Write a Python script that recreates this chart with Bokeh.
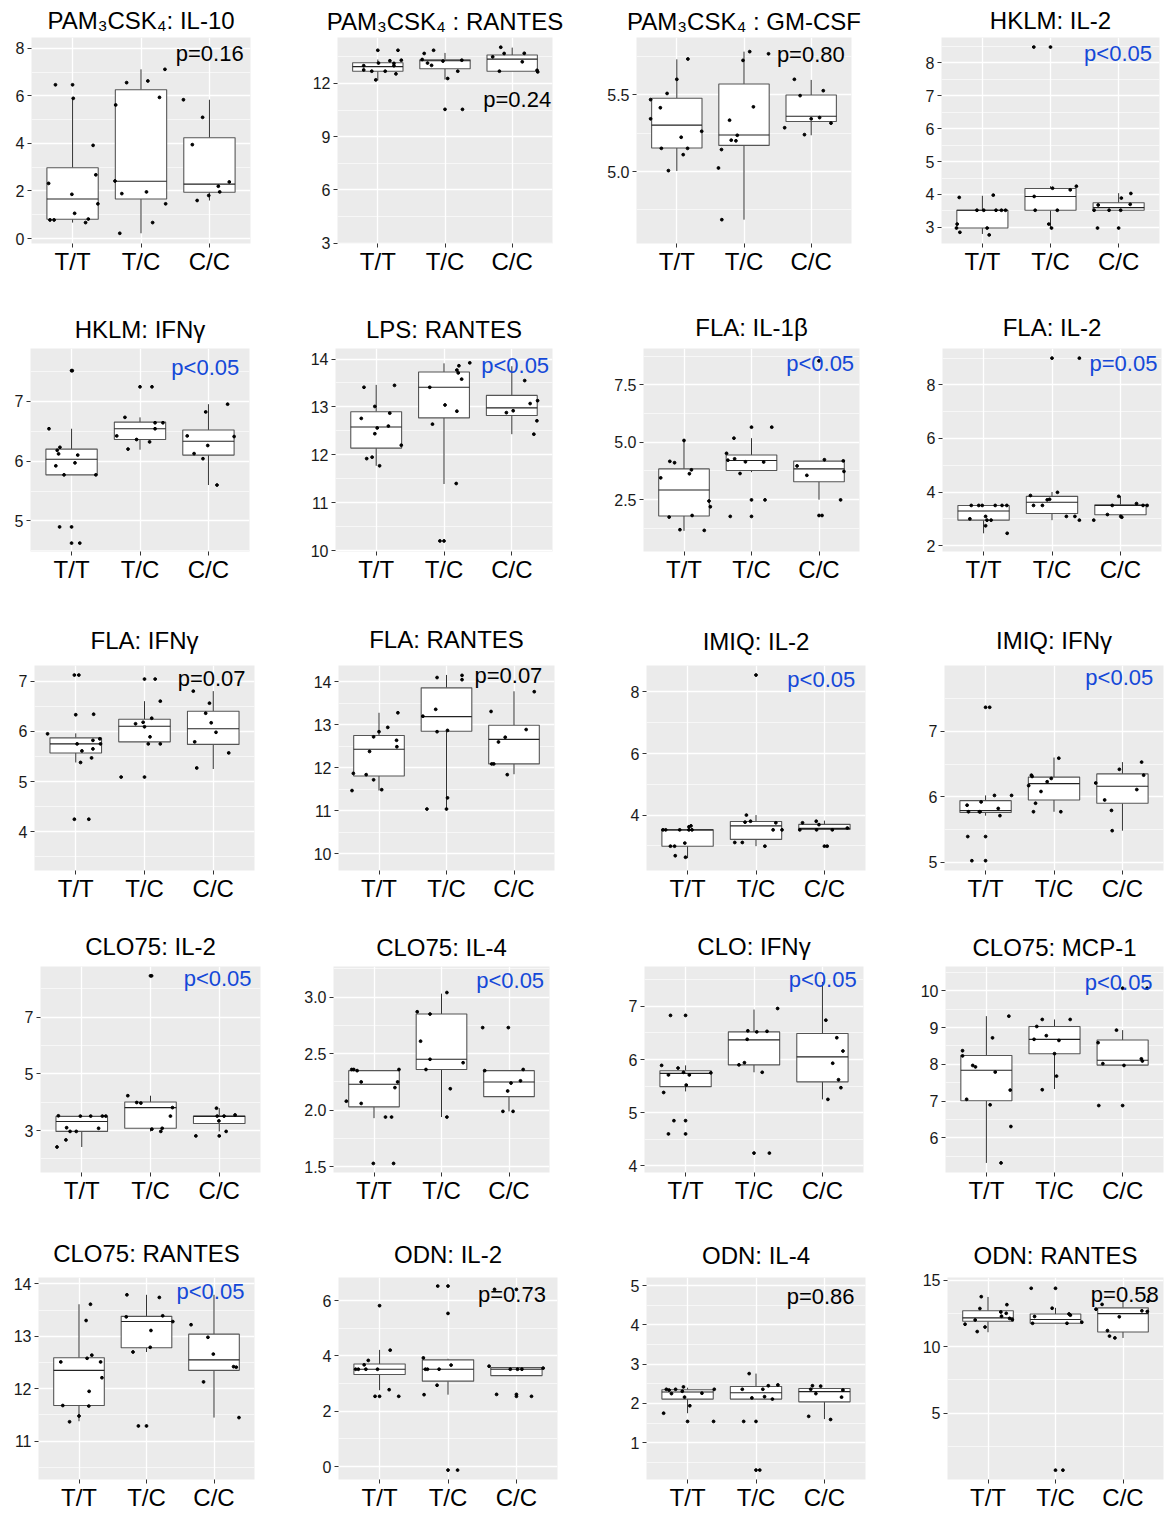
from bokeh.plotting import figure
from bokeh.models import Range1d, FixedTicker
from bokeh.layouts import column, row
from bokeh.embed import file_html
from bokeh.resources import INLINE
from bokeh.core.properties import value

GROUPS = ["T/T", "T/C", "C/C"]
FONT = "Liberation Sans"
BLUE = "#1448D8"

# ---------------- data (stats = low whisker, q1, median, q3, high whisker) -------------
P01_TITLE = "PAM\u2083CSK\u2084: IL-10"
P01_STATS = [(0.67, 0.81, 1.66, 2.98, 5.9), (0.22, 1.66, 2.41, 6.26, 7.12), (1.6, 1.95, 2.29, 4.24, 5.84)]
P01_TT = [(-0.35, 2.32), (-0.25, 6.47), (0.0, 6.47), (0.01, 5.9), (0.3, 3.92), (0.34, 2.68), (0.37, 1.46), (-0.01, 1.86), (0.03, 1.06), (0.23, 0.82), (0.19, 0.67), (-0.33, 0.78), (-0.27, 0.78)]
P01_TC = [(-0.37, 5.62), (-0.21, 6.56), (0.1, 6.63), (0.35, 7.12), (0.27, 5.94), (-0.38, 2.42), (-0.28, 1.89), (0.08, 1.96), (0.36, 1.46), (0.17, 0.67), (-0.31, 0.22)]
P01_CC = [(-0.38, 5.84), (-0.1, 5.1), (-0.25, 3.95), (-0.18, 1.6), (-0.01, 1.81), (0.13, 2.2), (0.15, 1.96), (0.29, 2.38)]
P01_PVAL = "p=0.16"
P01_YTICKS = [0, 2, 4, 6, 8]
P01_YLABELS = ["0", "2", "4", "6", "8"]
P01_YMINOR = [1, 3, 5, 7]

P02_TITLE = "PAM\u2083CSK\u2084 : RANTES"
P02_STATS = [(12.17, 12.69, 12.95, 13.17, 13.35), (12.22, 12.83, 13.28, 13.33, 13.72), (12.69, 12.69, 13.37, 13.6, 14.02)]
P02_TT = [(-0.21, 13.0), (-0.21, 12.76), (-0.09, 12.69), (-0.03, 12.2), (0.01, 13.15), (0.0, 13.87), (0.11, 12.69), (0.18, 13.28), (0.24, 13.0), (0.24, 13.13), (0.27, 12.54), (0.3, 13.87), (0.35, 13.31)]
P02_TC = [(-0.34, 13.35), (-0.31, 13.69), (-0.26, 13.15), (-0.2, 13.02), (-0.17, 13.87), (-0.03, 13.26), (0.0, 10.54), (0.04, 12.28), (0.19, 12.69), (0.25, 13.31), (0.26, 10.54)]
P02_CC = [(-0.29, 13.5), (-0.19, 12.69), (-0.17, 14.04), (-0.12, 13.69), (0.15, 13.22), (0.18, 13.7), (0.37, 12.74), (0.38, 12.65)]
P02_PVAL = "p=0.24"
P02_YTICKS = [3, 6, 9, 12]
P02_YLABELS = ["3", "6", "9", "12"]
P02_YMINOR = [4.5, 7.5, 10.5, 13.5]

P03_TITLE = "PAM\u2083CSK\u2084 : GM-CSF"
P03_STATS = [(5.004, 5.153, 5.302, 5.477, 5.73), (4.687, 5.17, 5.238, 5.57, 5.78), (5.236, 5.326, 5.36, 5.498, 5.596)]
P03_TT = [(-0.39, 5.468), (-0.39, 5.343), (-0.245, 5.415), (-0.145, 5.508), (0.0, 5.6), (0.165, 5.732), (0.37, 5.262), (0.065, 5.223), (0.16, 5.151), (0.095, 5.11), (-0.23, 5.151), (-0.125, 5.006)]
P03_TC = [(0.085, 5.78), (0.365, 5.766), (-0.015, 5.723), (0.14, 5.421), (-0.215, 5.334), (-0.1, 5.236), (-0.19, 5.204), (-0.12, 5.2), (-0.335, 5.143), (-0.38, 5.023), (-0.33, 4.687)]
P03_CC = [(-0.25, 5.6), (-0.165, 5.494), (0.18, 5.526), (-0.395, 5.285), (0.0, 5.343), (0.125, 5.351), (0.295, 5.315), (-0.1, 5.24)]
P03_PVAL = "p=0.80"
P03_YTICKS = [5.0, 5.5]
P03_YLABELS = ["5.0", "5.5"]
P03_YMINOR = [4.75, 5.25, 5.75]

P04_TITLE = "HKLM: IL-2"
P04_STATS = [(2.8, 2.98, 3.52, 3.52, 3.96), (2.98, 3.52, 3.94, 4.18, 4.25), (3.52, 3.52, 3.6, 3.75, 4.04)]
P04_TT = [(-0.34, 3.91), (-0.37, 3.1), (-0.38, 2.98), (-0.33, 2.85), (-0.08, 3.52), (0.02, 3.52), (0.16, 3.98), (0.2, 3.52), (0.28, 3.52), (0.34, 3.52), (0.07, 2.98), (0.1, 2.77)]
P04_TC = [(-0.245, 8.48), (0.0, 8.48), (-0.24, 3.94), (-0.225, 3.52), (-0.025, 3.1), (0.015, 2.98), (0.03, 4.19), (0.1, 3.52), (0.29, 4.14), (0.38, 4.25)]
P04_CC = [(-0.36, 3.52), (-0.3, 3.68), (-0.31, 2.98), (-0.14, 3.52), (0.0, 2.98), (0.03, 3.52), (0.04, 3.89), (0.17, 3.7), (0.18, 4.03)]
P04_PVAL = "p<0.05"
P04_YTICKS = [3, 4, 5, 6, 7, 8]
P04_YLABELS = ["3", "4", "5", "6", "7", "8"]
P04_YMINOR = [3.5, 4.5, 5.5, 6.5, 7.5, 8.5]

P05_TITLE = "HKLM: IFN\u03b3"
P05_STATS = [(5.77, 5.77, 6.03, 6.2, 6.54), (6.19, 6.36, 6.54, 6.65, 6.73), (5.6, 6.1, 6.33, 6.52, 6.95)]
P05_TT = [(-0.33, 6.54), (0.0, 7.51), (0.01, 7.51), (-0.21, 6.18), (-0.19, 6.12), (-0.17, 6.23), (-0.23, 5.92), (-0.11, 5.77), (0.05, 5.97), (0.09, 6.1), (0.355, 5.77), (-0.175, 4.9), (0.0, 4.9), (0.0, 4.63), (0.12, 4.63)]
P05_TC = [(-0.34, 6.42), (-0.22, 6.73), (-0.175, 6.2), (-0.05, 6.36), (0.0, 7.24), (0.175, 7.24), (0.14, 6.32), (0.22, 6.64), (0.22, 6.54), (0.335, 6.64)]
P05_CC = [(-0.31, 6.42), (-0.21, 6.125), (-0.08, 6.04), (-0.04, 6.82), (-0.01, 6.26), (0.125, 5.6), (0.28, 6.95), (0.375, 6.41)]
P05_PVAL = "p<0.05"
P05_YTICKS = [5, 6, 7]
P05_YLABELS = ["5", "6", "7"]
P05_YMINOR = [4.5, 5.5, 6.5, 7.5]

P06_TITLE = "LPS: RANTES"
P06_STATS = [(11.77, 12.14, 12.58, 12.9, 13.46), (11.39, 12.77, 13.41, 13.73, 13.91), (12.43, 12.82, 12.98, 13.24, 13.85)]
P06_TT = [(-0.18, 13.41), (-0.22, 12.76), (-0.14, 11.92), (-0.06, 11.95), (-0.02, 13.01), (0.015, 12.56), (-0.02, 12.44), (0.05, 11.77), (0.2, 12.87), (0.18, 12.6), (0.27, 13.45), (0.37, 12.2)]
P06_TC = [(-0.21, 13.41), (-0.17, 12.64), (0.015, 13.04), (0.19, 13.77), (0.21, 13.71), (0.22, 13.86), (0.26, 13.58), (0.38, 13.92), (0.19, 12.91), (0.18, 11.4), (-0.06, 10.2), (0.0, 10.2)]
P06_CC = [(-0.08, 12.88), (0.02, 12.92), (0.19, 13.55), (0.27, 13.07), (0.38, 13.13), (0.37, 12.71), (0.325, 12.43)]
P06_PVAL = "p<0.05"
P06_YTICKS = [10, 11, 12, 13, 14]
P06_YLABELS = ["10", "11", "12", "13", "14"]
P06_YMINOR = [10.5, 11.5, 12.5, 13.5]

P07_TITLE = "FLA: IL-1\u03b2"
P07_STATS = [(1.14, 1.79, 2.92, 3.84, 5.07), (3.7, 3.77, 4.21, 4.45, 5.18), (2.5, 3.28, 3.84, 4.18, 4.18)]
P07_TT = [(-0.345, 3.45), (-0.21, 4.17), (-0.14, 4.11), (0.0, 5.08), (0.08, 3.63), (0.11, 3.8), (0.12, 1.81), (-0.22, 1.74), (-0.06, 1.19), (0.3, 1.16), (0.37, 2.44), (0.39, 2.19)]
P07_TC = [(-0.37, 4.52), (-0.35, 4.22), (-0.26, 5.18), (-0.25, 4.28), (-0.17, 3.64), (-0.09, 4.15), (0.18, 4.14), (0.3, 5.66), (0.0, 5.66), (0.0, 2.49), (0.2, 2.49), (-0.315, 1.77), (0.0, 1.77)]
P07_CC = [(-0.325, 3.97), (-0.18, 3.56), (0.08, 4.24), (0.36, 4.19), (0.37, 3.73), (0.32, 2.49), (0.0, 1.81), (0.045, 1.81), (0.0, 8.55)]
P07_PVAL = "p<0.05"
P07_YTICKS = [2.5, 5.0, 7.5]
P07_YLABELS = ["2.5", "5.0", "7.5"]
P07_YMINOR = [1.25, 3.75, 6.25, 8.75]

P08_TITLE = "FLA: IL-2"
P08_STATS = [(2.46, 2.95, 3.29, 3.5, 3.5), (2.95, 3.2, 3.62, 3.84, 4.0), (3.06, 3.15, 3.5, 3.52, 3.85)]
P08_TT = [(-0.2, 3.0), (-0.18, 3.5), (-0.07, 3.5), (-0.02, 3.5), (0.03, 3.09), (0.03, 2.74), (0.05, 2.95), (0.11, 2.95), (0.17, 3.5), (0.27, 3.5), (0.34, 3.5), (0.345, 2.46)]
P08_TC = [(-0.315, 3.87), (-0.27, 3.5), (-0.14, 3.5), (-0.07, 3.71), (-0.035, 3.73), (0.08, 3.99), (0.0, 9.0), (0.4, 9.0), (0.21, 3.09), (0.335, 3.09), (0.4, 2.95)]
P08_CC = [(-0.39, 2.95), (-0.19, 3.16), (-0.12, 3.5), (-0.025, 3.84), (0.005, 3.09), (0.02, 3.06), (0.235, 3.57), (0.33, 3.5), (0.39, 3.5)]
P08_PVAL = "p=0.05"
P08_YTICKS = [2, 4, 6, 8]
P08_YLABELS = ["2", "4", "6", "8"]
P08_YMINOR = [3, 5, 7, 9]

P09_TITLE = "FLA: IFN\u03b3"
P09_STATS = [(5.38, 5.57, 5.75, 5.87, 5.96), (5.79, 5.79, 6.1, 6.24, 6.6), (5.25, 5.74, 6.05, 6.4, 6.8)]
P09_TT = [(-0.41, 5.95), (-0.02, 7.12), (0.045, 7.12), (0.0, 6.33), (0.26, 6.34), (0.02, 5.75), (0.09, 5.61), (0.07, 5.38), (0.23, 5.47), (0.25, 5.82), (0.25, 5.65), (0.35, 5.85), (0.36, 5.75), (-0.02, 4.25), (0.19, 4.25)]
P09_TC = [(-0.34, 5.09), (0.0, 5.09), (-0.13, 6.15), (-0.02, 6.18), (0.0, 6.09), (0.0, 7.04), (0.155, 7.04), (0.08, 5.89), (0.055, 5.75), (0.105, 6.26), (0.23, 6.6), (0.23, 5.75)]
P09_CC = [(-0.29, 6.8), (-0.27, 5.79), (-0.24, 5.27), (-0.11, 6.36), (-0.055, 6.56), (-0.03, 6.17), (0.04, 5.98), (0.225, 5.57)]
P09_PVAL = "p=0.07"
P09_YTICKS = [4, 5, 6, 7]
P09_YLABELS = ["4", "5", "6", "7"]
P09_YMINOR = [3.5, 4.5, 5.5, 6.5]

P10_TITLE = "FLA: RANTES"
P10_STATS = [(11.47, 11.81, 12.43, 12.75, 13.28), (11.04, 12.85, 13.19, 13.86, 14.16), (11.85, 12.09, 12.66, 12.99, 13.78)]
P10_TT = [(-0.4, 11.47), (-0.38, 11.87), (-0.19, 11.84), (-0.14, 12.38), (-0.08, 11.72), (0.0, 12.84), (0.04, 11.49), (-0.08, 12.72), (0.13, 12.94), (0.26, 12.64), (0.265, 12.49), (0.28, 13.28)]
P10_TC = [(-0.35, 13.2), (-0.29, 11.04), (-0.16, 13.36), (-0.14, 14.1), (-0.14, 12.84), (0.0, 11.04), (0.015, 12.87), (0.015, 11.3), (0.23, 14.15), (0.23, 14.05)]
P10_CC = [(-0.34, 13.31), (-0.33, 12.09), (-0.3, 12.09), (-0.23, 12.6), (-0.13, 12.71), (-0.1, 11.84), (0.18, 12.89), (0.3, 13.77)]
P10_PVAL = "p=0.07"
P10_YTICKS = [10, 11, 12, 13, 14]
P10_YLABELS = ["10", "11", "12", "13", "14"]
P10_YMINOR = [10.5, 11.5, 12.5, 13.5]

P11_TITLE = "IMIQ: IL-2"
P11_STATS = [(2.6, 2.99, 3.52, 3.52, 3.52), (2.99, 3.21, 3.65, 3.79, 4.0), (3.53, 3.53, 3.57, 3.7, 3.82)]
P11_TT = [(-0.36, 3.52), (-0.32, 3.52), (-0.25, 2.99), (-0.19, 2.99), (-0.18, 2.68), (-0.115, 3.52), (-0.04, 3.09), (-0.03, 2.63), (0.02, 3.62), (0.05, 3.65), (0.065, 3.52), (0.02, 3.52)]
P11_TC = [(-0.31, 3.11), (-0.2, 3.11), (-0.14, 4.0), (-0.16, 3.77), (-0.08, 3.8), (0.0, 8.55), (0.13, 2.99), (0.25, 3.52), (0.29, 3.75), (0.38, 3.52)]
P11_CC = [(-0.36, 3.52), (-0.32, 3.75), (-0.12, 3.8), (-0.115, 3.52), (-0.08, 3.69), (0.0, 2.99), (0.04, 2.99), (0.115, 3.52), (0.335, 3.58)]
P11_PVAL = "p<0.05"
P11_YTICKS = [4, 6, 8]
P11_YLABELS = ["4", "6", "8"]
P11_YMINOR = [3, 5, 7]

P12_TITLE = "IMIQ: IFN\u03b3"
P12_STATS = [(5.71, 5.76, 5.79, 5.94, 6.02), (5.77, 5.95, 6.2, 6.3, 6.6), (5.48, 5.9, 6.16, 6.35, 6.53)]
P12_TT = [(-0.27, 5.87), (-0.25, 5.77), (-0.26, 5.39), (-0.2, 5.02), (-0.09, 5.77), (-0.065, 5.92), (-0.08, 5.77), (0.0, 7.37), (0.06, 7.37), (0.0, 5.39), (0.0, 5.02), (0.13, 6.02), (0.185, 5.82), (0.21, 5.71), (0.38, 6.02)]
P12_TC = [(-0.37, 6.17), (-0.33, 6.33), (-0.32, 6.31), (-0.3, 5.77), (-0.27, 5.9), (-0.19, 6.08), (-0.1, 6.23), (-0.04, 6.28), (0.07, 6.59), (0.1, 5.77)]
P12_CC = [(-0.39, 6.21), (-0.26, 5.95), (-0.16, 5.79), (-0.15, 5.48), (-0.045, 6.42), (0.21, 6.11), (0.28, 6.53), (0.31, 6.33)]
P12_PVAL = "p<0.05"
P12_YTICKS = [5, 6, 7]
P12_YLABELS = ["5", "6", "7"]
P12_YMINOR = [5.5, 6.5, 7.5]

P13_TITLE = "CLO75: IL-2"
P13_STATS = [(2.42, 2.97, 3.32, 3.5, 3.5), (2.97, 3.08, 3.81, 4.01, 4.23), (2.97, 3.25, 3.5, 3.51, 3.79)]
P13_TT = [(-0.36, 2.42), (-0.34, 3.52), (-0.23, 2.67), (-0.22, 3.1), (-0.17, 2.97), (-0.08, 2.97), (-0.02, 3.51), (0.13, 3.51), (0.245, 3.08), (0.3, 3.51), (0.35, 3.51)]
P13_TC = [(-0.33, 4.23), (-0.2, 3.99), (-0.14, 3.97), (0.0, 8.46), (0.016, 8.46), (0.02, 3.05), (0.15, 2.97), (0.17, 3.08), (0.29, 3.51), (0.32, 3.81)]
P13_CC = [(-0.34, 2.81), (-0.04, 3.79), (-0.005, 3.34), (0.0, 2.81), (-0.03, 3.51), (0.07, 3.51), (0.1, 2.97), (0.23, 3.55)]
P13_PVAL = "p<0.05"
P13_YTICKS = [3, 5, 7]
P13_YLABELS = ["3", "5", "7"]
P13_YMINOR = [2, 4, 6, 8]

P14_TITLE = "CLO75: IL-4"
P14_STATS = [(1.93, 2.03, 2.23, 2.35, 2.35), (1.94, 2.36, 2.45, 2.85, 3.03), (1.99, 2.12, 2.25, 2.35, 2.35)]
P14_TT = [(-0.41, 2.08), (-0.33, 2.36), (-0.3, 2.36), (-0.25, 2.35), (-0.19, 2.25), (-0.19, 2.06), (-0.01, 1.53), (0.17, 1.94), (0.26, 1.94), (0.29, 1.53), (0.31, 2.2), (0.35, 2.25), (0.37, 2.36)]
P14_TC = [(-0.36, 2.87), (-0.31, 2.61), (-0.23, 2.36), (-0.17, 2.85), (-0.17, 2.45), (0.08, 3.04), (0.08, 1.94), (0.13, 2.19), (0.32, 2.42)]
P14_CC = [(-0.39, 2.73), (-0.36, 2.35), (-0.09, 1.99), (-0.01, 2.73), (-0.02, 2.17), (0.03, 2.24), (0.06, 1.99), (0.17, 2.26), (0.21, 2.36)]
P14_PVAL = "p<0.05"
P14_YTICKS = [1.5, 2.0, 2.5, 3.0]
P14_YLABELS = ["1.5", "2.0", "2.5", "3.0"]
P14_YMINOR = [1.75, 2.25, 2.75, 3.25]

P15_TITLE = "CLO: IFN\u03b3"
P15_STATS = [(5.4, 5.49, 5.74, 5.79, 5.89), (5.76, 5.9, 6.37, 6.52, 6.94), (5.25, 5.58, 6.05, 6.49, 7.46)]
P15_TT = [(-0.35, 5.89), (-0.32, 5.38), (-0.25, 5.71), (-0.25, 4.6), (-0.22, 6.83), (-0.17, 4.85), (-0.11, 5.84), (-0.03, 5.76), (0.0, 6.83), (0.0, 4.85), (0.0, 4.6), (0.01, 5.52), (0.055, 5.71), (0.37, 5.75)]
P15_TC = [(-0.22, 5.9), (-0.14, 5.94), (-0.1, 6.38), (-0.09, 6.54), (0.0, 4.24), (0.04, 6.52), (0.12, 5.76), (0.19, 6.53), (0.225, 4.24), (0.345, 6.96)]
P15_CC = [(0.05, 6.74), (0.08, 5.25), (0.15, 5.93), (0.21, 6.41), (0.235, 5.62), (0.27, 5.47), (0.3, 6.16)]
P15_PVAL = "p<0.05"
P15_YTICKS = [4, 5, 6, 7]
P15_YLABELS = ["4", "5", "6", "7"]
P15_YMINOR = [4.5, 5.5, 6.5, 7.5]

P16_TITLE = "CLO75: MCP-1"
P16_STATS = [(5.32, 7.01, 7.84, 8.24, 9.31), (7.33, 8.29, 8.68, 9.03, 9.22), (7.98, 7.98, 8.11, 8.66, 8.93)]
P16_TT = [(-0.35, 8.37), (-0.35, 8.23), (-0.29, 7.05), (-0.2, 7.97), (-0.16, 7.93), (0.055, 6.9), (0.09, 8.72), (0.13, 7.79), (0.215, 5.32), (0.33, 9.31), (0.35, 7.3), (0.36, 6.31)]
P16_TC = [(-0.3, 8.68), (-0.26, 9.03), (-0.18, 9.22), (-0.18, 7.31), (-0.12, 8.78), (0.0, 8.29), (0.03, 7.68), (0.065, 8.65), (0.23, 9.22)]
P16_CC = [(-0.36, 8.59), (-0.35, 6.88), (-0.29, 8.02), (-0.09, 8.93), (0.0, 10.07), (0.0, 6.88), (0.02, 7.97), (0.275, 8.15), (0.29, 8.09), (0.36, 10.07)]
P16_PVAL = "p<0.05"
P16_YTICKS = [6, 7, 8, 9, 10]
P16_YLABELS = ["6", "7", "8", "9", "10"]
P16_YMINOR = [5.5, 6.5, 7.5, 8.5, 9.5, 10.5]

P17_TITLE = "CLO75: RANTES"
P17_STATS = [(11.38, 11.68, 12.35, 12.59, 13.61), (12.7, 12.78, 13.28, 13.38, 13.79), (11.45, 12.35, 12.55, 13.04, 13.79)]
P17_TT = [(-0.27, 12.51), (-0.24, 11.68), (-0.14, 11.37), (0.0, 11.48), (0.105, 13.3), (0.12, 12.58), (0.145, 11.67), (0.15, 11.95), (0.17, 13.61), (0.19, 12.64), (0.32, 12.51), (0.34, 12.21)]
P17_TC = [(-0.29, 13.79), (-0.3, 13.37), (-0.2, 12.7), (-0.12, 11.29), (0.0, 11.29), (0.055, 12.79), (0.066, 13.11), (0.19, 13.74), (0.24, 13.39), (0.39, 13.28)]
P17_CC = [(-0.34, 13.22), (-0.155, 12.13), (-0.09, 12.98), (-0.01, 12.66), (0.29, 12.42), (0.33, 12.41), (0.37, 11.45)]
P17_PVAL = "p<0.05"
P17_YTICKS = [11, 12, 13, 14]
P17_YLABELS = ["11", "12", "13", "14"]
P17_YMINOR = [10.5, 11.5, 12.5, 13.5]

P18_TITLE = "ODN: IL-2"
P18_STATS = [(2.76, 3.33, 3.52, 3.71, 4.22), (2.6, 3.09, 3.52, 3.86, 3.9), (3.29, 3.29, 3.52, 3.58, 3.58)]
P18_TT = [(-0.35, 3.52), (-0.31, 3.52), (-0.225, 3.68), (-0.2, 3.52), (-0.165, 3.84), (-0.066, 2.54), (0.0, 2.54), (0.0, 5.82), (-0.03, 3.52), (0.14, 2.78), (0.155, 4.21), (0.28, 2.54)]
P18_TC = [(-0.36, 3.93), (-0.35, 2.6), (-0.33, 3.52), (-0.3, 3.52), (-0.16, 2.94), (-0.15, 6.53), (0.0, 6.53), (0.0, 5.54), (0.0, -0.13), (0.14, -0.13), (-0.13, 3.52), (0.045, 3.67)]
P18_CC = [(-0.4, 3.63), (-0.29, 2.61), (-0.09, 3.52), (0.0, 2.54), (0.0, 2.61), (0.016, 3.52), (0.08, 3.52), (0.22, 2.54), (0.39, 3.56), (-0.32, 6.41), (0.0, 6.41)]
P18_PVAL = "p=0.73"
P18_YTICKS = [0, 2, 4, 6]
P18_YLABELS = ["0", "2", "4", "6"]
P18_YMINOR = [1, 3, 5]

P19_TITLE = "ODN: IL-4"
P19_STATS = [(1.75, 2.11, 2.29, 2.35, 2.4), (2.11, 2.11, 2.27, 2.43, 2.76), (1.6, 2.04, 2.3, 2.38, 2.38)]
P19_TT = [(-0.35, 1.75), (-0.31, 2.36), (-0.27, 2.34), (-0.235, 2.25), (-0.175, 2.36), (-0.077, 2.31), (-0.06, 2.42), (-0.044, 2.16), (0.0, 1.54), (0.033, 1.94), (0.21, 2.26), (0.38, 1.54), (0.39, 2.36)]
P19_TC = [(-0.2, 2.36), (-0.18, 1.54), (-0.06, 2.14), (0.0, 1.54), (0.0, 0.3), (0.055, 0.3), (-0.1, 2.76), (0.1, 2.36), (0.125, 2.17), (0.18, 2.45), (0.24, 2.11), (0.32, 2.47)]
P19_CC = [(-0.23, 1.67), (-0.2, 2.36), (-0.175, 2.45), (-0.125, 2.25), (-0.055, 2.44), (0.09, 1.59), (0.25, 2.16), (0.27, 2.34)]
P19_PVAL = "p=0.86"
P19_YTICKS = [1, 2, 3, 4, 5]
P19_YLABELS = ["1", "2", "3", "4", "5"]
P19_YMINOR = [0.5, 1.5, 2.5, 3.5, 4.5]

P20_TITLE = "ODN: RANTES"
P20_STATS = [(11.08, 11.9, 12.16, 12.69, 13.73), (11.75, 11.75, 12.04, 12.45, 12.91), (10.65, 11.1, 12.48, 12.91, 13.41)]
P20_TT = [(-0.34, 11.68), (-0.19, 12.0), (-0.16, 11.13), (-0.12, 12.86), (-0.1, 13.75), (-0.044, 11.47), (0.19, 12.6), (0.2, 12.28), (0.27, 12.5), (0.28, 13.15), (0.32, 12.12), (0.36, 12.02)]
P20_TC = [(-0.36, 14.38), (0.0, 14.38), (-0.34, 11.75), (-0.31, 12.26), (-0.05, 12.88), (0.0, 0.72), (0.11, 0.72), (0.17, 11.75), (0.2, 12.45), (0.22, 12.36), (0.39, 11.83)]
P20_CC = [(-0.4, 12.81), (-0.31, 13.17), (-0.23, 11.2), (-0.2, 10.79), (-0.12, 10.65), (-0.055, 12.24), (0.28, 12.69), (0.36, 12.64), (0.37, 13.41)]
P20_PVAL = "p=0.58"
P20_YTICKS = [5, 10, 15]
P20_YLABELS = ["5", "10", "15"]
P20_YMINOR = [2.5, 7.5, 12.5]

# ---------------- layout: frame box (page px), y limits, p-label anchor & colour, title gap -------------
COLS = [0, 295, 595, 898, 1173]
ROWS = [0, 290, 605, 915, 1220, 1515]

LAYOUT = [
    dict(frame=(31, 250, 37, 245), yr=(-0.21, 8.46), pxy=(3.50, 7.79), pc="black", ts=7),
    dict(frame=(337, 552, 35, 243), yr=(2.98, 14.59), pxy=(3.58, 11.07), pc="black", ts=5),
    dict(frame=(636, 851, 35, 245), yr=(4.532, 5.872), pxy=(3.50, 5.76), pc="black", ts=5),
    dict(frame=(941, 1159, 37, 245), yr=(2.51, 8.77), pxy=(3.49, 8.28), pc=BLUE, ts=7),
    dict(frame=(30, 249, 343, 551), yr=(4.49, 7.88), pxy=(3.45, 7.56), pc=BLUE, ts=12),
    dict(frame=(335, 552, 343, 552), yr=(9.98, 14.22), pxy=(3.55, 13.86), pc=BLUE, ts=12),
    dict(frame=(643, 859, 348, 557), yr=(0.24, 9.09), pxy=(3.52, 8.44), pc=BLUE, ts=16),
    dict(frame=(942, 1161, 347, 556), yr=(1.78, 9.36), pxy=(3.54, 8.81), pc=BLUE, ts=15),
    dict(frame=(34, 254, 662, 871), yr=(3.23, 7.31), pxy=(3.47, 7.06), pc="black", ts=23),
    dict(frame=(338, 554, 665, 874), yr=(9.61, 14.38), pxy=(3.42, 14.14), pc="black", ts=25),
    dict(frame=(646, 865, 661, 870), yr=(2.2, 8.86), pxy=(3.45, 8.40), pc=BLUE, ts=22),
    dict(frame=(944, 1163, 663, 872), yr=(4.87, 8.01), pxy=(3.45, 7.83), pc=BLUE, ts=23),
    dict(frame=(40, 260, 966, 1174), yr=(1.52, 8.79), pxy=(3.47, 8.38), pc=BLUE, ts=13),
    dict(frame=(333, 549, 964, 1172), yr=(1.45, 3.27), pxy=(3.52, 3.15), pc=BLUE, ts=12),
    dict(frame=(644, 863, 966, 1174), yr=(3.875, 7.75), pxy=(3.50, 7.51), pc=BLUE, ts=13),
    dict(frame=(945, 1163, 964, 1172), yr=(5.06, 10.66), pxy=(3.44, 10.23), pc=BLUE, ts=12),
    dict(frame=(38, 254, 1277, 1484), yr=(10.27, 14.12), pxy=(3.45, 13.85), pc=BLUE, ts=22),
    dict(frame=(338, 557, 1273, 1481), yr=(-0.47, 6.84), pxy=(3.43, 6.23), pc="black", ts=19),
    dict(frame=(646, 865, 1272, 1480), yr=(0.06, 5.21), pxy=(3.44, 4.73), pc="black", ts=18),
    dict(frame=(947, 1163, 1270, 1479), yr=(0.02, 15.19), pxy=(3.53, 13.90), pc="black", ts=17),
]

PANELS = [
    (P01_TITLE, P01_STATS, [P01_TT, P01_TC, P01_CC], P01_PVAL, P01_YTICKS, P01_YLABELS, P01_YMINOR),
    (P02_TITLE, P02_STATS, [P02_TT, P02_TC, P02_CC], P02_PVAL, P02_YTICKS, P02_YLABELS, P02_YMINOR),
    (P03_TITLE, P03_STATS, [P03_TT, P03_TC, P03_CC], P03_PVAL, P03_YTICKS, P03_YLABELS, P03_YMINOR),
    (P04_TITLE, P04_STATS, [P04_TT, P04_TC, P04_CC], P04_PVAL, P04_YTICKS, P04_YLABELS, P04_YMINOR),
    (P05_TITLE, P05_STATS, [P05_TT, P05_TC, P05_CC], P05_PVAL, P05_YTICKS, P05_YLABELS, P05_YMINOR),
    (P06_TITLE, P06_STATS, [P06_TT, P06_TC, P06_CC], P06_PVAL, P06_YTICKS, P06_YLABELS, P06_YMINOR),
    (P07_TITLE, P07_STATS, [P07_TT, P07_TC, P07_CC], P07_PVAL, P07_YTICKS, P07_YLABELS, P07_YMINOR),
    (P08_TITLE, P08_STATS, [P08_TT, P08_TC, P08_CC], P08_PVAL, P08_YTICKS, P08_YLABELS, P08_YMINOR),
    (P09_TITLE, P09_STATS, [P09_TT, P09_TC, P09_CC], P09_PVAL, P09_YTICKS, P09_YLABELS, P09_YMINOR),
    (P10_TITLE, P10_STATS, [P10_TT, P10_TC, P10_CC], P10_PVAL, P10_YTICKS, P10_YLABELS, P10_YMINOR),
    (P11_TITLE, P11_STATS, [P11_TT, P11_TC, P11_CC], P11_PVAL, P11_YTICKS, P11_YLABELS, P11_YMINOR),
    (P12_TITLE, P12_STATS, [P12_TT, P12_TC, P12_CC], P12_PVAL, P12_YTICKS, P12_YLABELS, P12_YMINOR),
    (P13_TITLE, P13_STATS, [P13_TT, P13_TC, P13_CC], P13_PVAL, P13_YTICKS, P13_YLABELS, P13_YMINOR),
    (P14_TITLE, P14_STATS, [P14_TT, P14_TC, P14_CC], P14_PVAL, P14_YTICKS, P14_YLABELS, P14_YMINOR),
    (P15_TITLE, P15_STATS, [P15_TT, P15_TC, P15_CC], P15_PVAL, P15_YTICKS, P15_YLABELS, P15_YMINOR),
    (P16_TITLE, P16_STATS, [P16_TT, P16_TC, P16_CC], P16_PVAL, P16_YTICKS, P16_YLABELS, P16_YMINOR),
    (P17_TITLE, P17_STATS, [P17_TT, P17_TC, P17_CC], P17_PVAL, P17_YTICKS, P17_YLABELS, P17_YMINOR),
    (P18_TITLE, P18_STATS, [P18_TT, P18_TC, P18_CC], P18_PVAL, P18_YTICKS, P18_YLABELS, P18_YMINOR),
    (P19_TITLE, P19_STATS, [P19_TT, P19_TC, P19_CC], P19_PVAL, P19_YTICKS, P19_YLABELS, P19_YMINOR),
    (P20_TITLE, P20_STATS, [P20_TT, P20_TC, P20_CC], P20_PVAL, P20_YTICKS, P20_YLABELS, P20_YMINOR),
]

BOX_W = 0.75


def make_panel(idx):
    title, stats, groups, pval, yticks, ylabels, yminor = PANELS[idx]
    lay = LAYOUT[idx]
    r, c = divmod(idx, 4)
    cx0, cw = COLS[c], COLS[c + 1] - COLS[c]
    cy0, ch = ROWS[r], ROWS[r + 1] - ROWS[r]
    fx0, fx1, fy0, fy1 = lay["frame"]
    p = figure(width=cw, height=ch, x_range=Range1d(0.4, 3.6), y_range=Range1d(*lay["yr"]),
               output_backend="svg", toolbar_location=None, title=title,
               min_border_left=int(round(fx0 - cx0)), min_border_right=max(0, int(round(cx0 + cw - fx1))),
               min_border_top=int(round(fy0 - cy0)), min_border_bottom=int(round(cy0 + ch - fy1)))
    p.background_fill_color = "#EBEBEB"
    p.border_fill_color = "white"
    p.outline_line_color = None
    p.title.align = "center"
    p.title.text_font = FONT
    p.title.text_font_size = "24px"
    p.title.text_font_style = "normal"
    p.title.text_color = "black"
    p.title.standoff = lay["ts"]

    p.xaxis.ticker = FixedTicker(ticks=[1, 2, 3])
    p.xaxis.major_label_overrides = {1: GROUPS[0], 2: GROUPS[1], 3: GROUPS[2]}
    p.xaxis.major_label_text_font = FONT
    p.xaxis.major_label_text_font_size = "24px"
    p.xaxis.major_label_text_color = "black"
    p.xaxis.major_label_standoff = 0

    p.yaxis.ticker = FixedTicker(ticks=yticks, minor_ticks=yminor)
    p.yaxis.major_label_overrides = {t: s for t, s in zip(yticks, ylabels)}
    p.yaxis.major_label_text_font = FONT
    p.yaxis.major_label_text_font_size = "16px"
    p.yaxis.major_label_text_color = "#1a1a1a"
    p.yaxis.major_label_standoff = 3

    for ax in (p.xaxis, p.yaxis):
        ax.axis_line_color = None
        ax.major_tick_line_color = "#333333"
        ax.major_tick_out = 4
        ax.major_tick_in = 0
        ax.minor_tick_line_color = None

    p.xgrid.grid_line_color = "white"
    p.xgrid.grid_line_width = 1.3
    p.ygrid.grid_line_color = "white"
    p.ygrid.grid_line_width = 1.3
    p.ygrid.minor_grid_line_color = "white"
    p.ygrid.minor_grid_line_width = 0.6

    xs = [1, 2, 3]
    lows = [s[0] for s in stats]
    q1s = [s[1] for s in stats]
    meds = [s[2] for s in stats]
    q3s = [s[3] for s in stats]
    highs = [s[4] for s in stats]
    p.segment(x0=xs, y0=q3s, x1=xs, y1=highs, line_color="#333333", line_width=1)
    p.segment(x0=xs, y0=lows, x1=xs, y1=q1s, line_color="#333333", line_width=1)
    p.vbar(x=xs, width=BOX_W, bottom=q1s, top=q3s, fill_color="white",
           line_color="#555555", line_width=1.1)
    p.segment(x0=[x - BOX_W / 2 for x in xs], y0=meds, x1=[x + BOX_W / 2 for x in xs], y1=meds,
              line_color="#222222", line_width=1.1)

    px, py = [], []
    for gi, pts in enumerate(groups):
        for off, v in pts:
            px.append(gi + 1 + off)
            py.append(v)
    p.scatter(px, py, size=2.8, color="black")

    p.text(x=[lay["pxy"][0]], y=[lay["pxy"][1]], text=[pval], text_align="right",
           text_baseline="middle", text_font=value(FONT), text_font_size="22px",
           text_color=lay["pc"])
    return p


rows = []
for r in range(5):
    rows.append(row(*[make_panel(r * 4 + c) for c in range(4)]))
layout = column(*rows)

open("out.html", "w").write(file_html(layout, INLINE, title="Cytokine boxplots"))
